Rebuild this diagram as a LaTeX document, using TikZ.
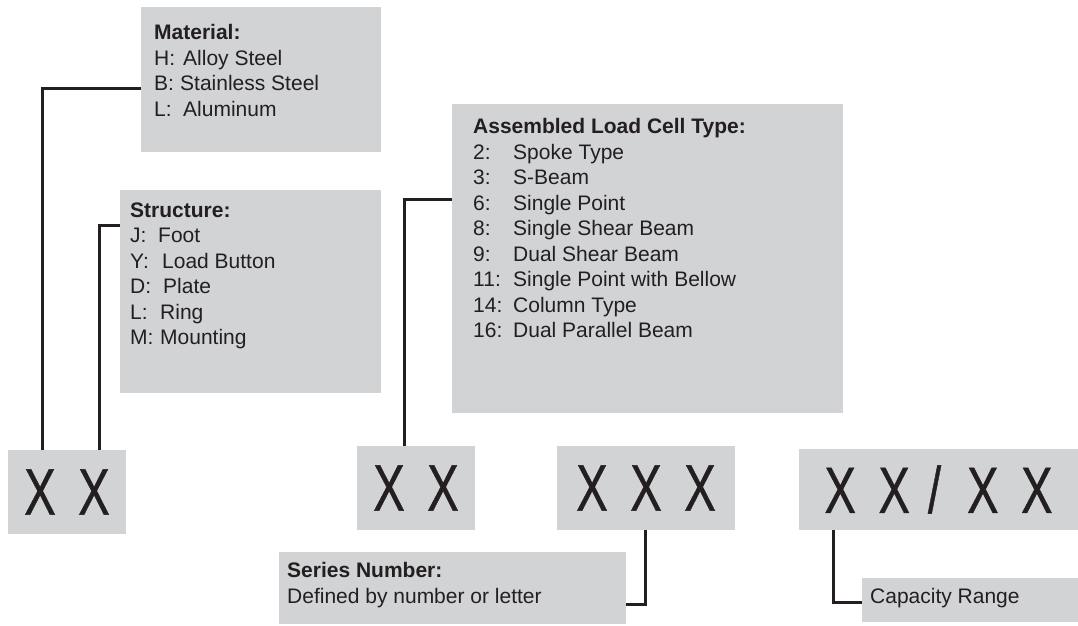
\documentclass[tikz,border=0pt]{standalone}
\usepackage{fontspec}
\setmainfont{Liberation Sans}
\newfontfamily\codefont[FakeBold=0.8]{Liberation Sans}
\usepackage{graphicx}
\usetikzlibrary{positioning, calc}

\definecolor{panelgray}{HTML}{D1D3D4}
\definecolor{ink}{HTML}{231F20}

% one letter of the order code, narrowed like the printed sheet
\newcommand{\bigX}{\scalebox{0.72}[1]{X}}
% code column in the option lists
\newcommand{\entry}[3]{\makebox[#1][l]{#2}#3}

\begin{document}
\begin{tikzpicture}[
    x=1pt, y=-1pt,
    panel/.style={rectangle, fill=panelgray, inner sep=0pt, anchor=north west},
    codebox/.style={rectangle, fill=panelgray, inner sep=0pt, text=ink,
        font=\codefont\fontsize{65.6}{70}\selectfont},
    listtext/.style={anchor=north west, align=left, inner sep=0pt, text=ink,
        font=\fontsize{21}{25.5}\selectfont},
    lead/.style={draw=ink, line width=3pt}
]

\useasboundingbox (0,0) rectangle (1078,625);

% Option panels
\node[panel, minimum width=240pt, minimum height=145pt] (material) at (141,7) {};
\node[panel, minimum width=261pt, minimum height=203pt] (structure) at (120,190) {};
\node[panel, minimum width=391pt, minimum height=309pt] (assembled) at (452,104) {};
\node[panel, minimum width=347pt, minimum height=72pt] (series) at (279,552) {};
\node[panel, minimum width=216pt, minimum height=44pt] (capacity) at (862,578) {};

\node[listtext] (materialtext) at (154,24.5) {\textbf{Material:}\\
    \entry{29pt}{H:}{Alloy Steel}\\
    \entry{26pt}{B:}{Stainless Steel}\\
    \entry{29pt}{L:}{Aluminum}};

\node[listtext] (structuretext) at (130,202.5) {\textbf{Structure:}\\
    \entry{28pt}{J:}{Foot}\\
    \entry{32pt}{Y:}{Load Button}\\
    \entry{33pt}{D:}{Plate}\\
    \entry{30pt}{L:}{Ring}\\
    \entry{30pt}{M:}{Mounting}};

\node[listtext] (assembledtext) at (473,118.5) {\textbf{Assembled Load Cell Type:}\\
    \entry{40pt}{2:}{Spoke Type}\\
    \entry{40pt}{3:}{S-Beam}\\
    \entry{40pt}{6:}{Single Point}\\
    \entry{40pt}{8:}{Single Shear Beam}\\
    \entry{40pt}{9:}{Dual Shear Beam}\\
    \entry{40pt}{11:}{Single Point with Bellow}\\
    \entry{40pt}{14:}{Column Type}\\
    \entry{40pt}{16:}{Dual Parallel Beam}};

\node[listtext] (seriestext) at (287,562.5) {\textbf{Series Number:}\\
    Defined by number or letter};

\node[listtext, anchor=base west] (capacitytext) at (870,603.5) {Capacity Range};

% Order code fields
\node[codebox, minimum width=118pt, minimum height=84pt] (code1) at (67,492)
    {\bigX\hspace{22.5pt}\bigX};
\node[codebox, minimum width=118pt, minimum height=84pt] (code2) at (416,488)
    {\bigX\hspace{22.5pt}\bigX};
\node[codebox, minimum width=178pt, minimum height=84pt] (code3) at (646,488)
    {\bigX\hspace{22.5pt}\bigX\hspace{22.5pt}\bigX};
\node[codebox, minimum width=279pt, minimum height=81pt] (code4) at (938.5,489.5)
    {\bigX\hspace{22.5pt}\bigX\hspace{18pt}\scalebox{0.72}[1]{/}\hspace{26pt}\bigX\hspace{22.5pt}\bigX};

% Leaders from fields to panels
\draw[lead] ([yshift=-8.5pt]material.west) -| ([xshift=-25pt]code1.north);
\draw[lead] ([yshift=66.5pt]structure.west) -| ([xshift=32pt]code1.north);
\draw[lead] ([yshift=59.5pt]assembled.west) -| ([xshift=-12pt]code2.north);
\draw[lead] ([xshift=-1pt]code3.south) |- ([yshift=-16pt]series.east);
\draw[lead] ([xshift=-105.5pt]code4.south) |- ([yshift=-2.5pt]capacity.west);

\end{tikzpicture}
\end{document}
